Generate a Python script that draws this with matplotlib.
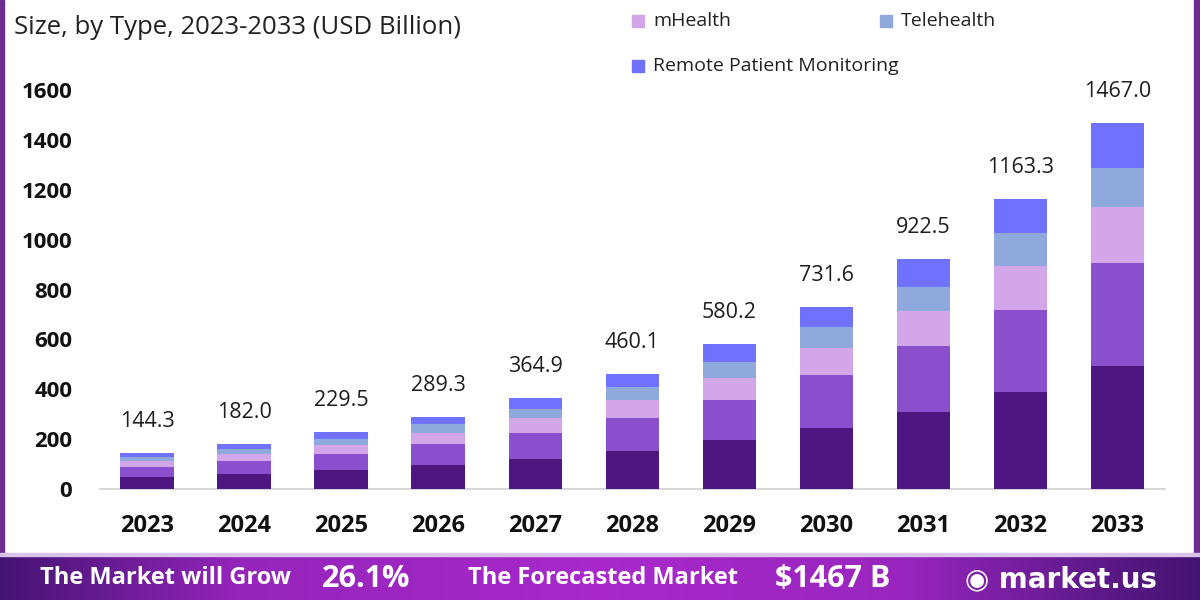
import numpy as np
import matplotlib
matplotlib.use("Agg")
import matplotlib.pyplot as plt
from matplotlib.patches import Rectangle

plt.rcParams["font.family"] = ["Open Sans", "DejaVu Sans"]

# dati (USD Billion)
years = ["2023", "2024", "2025", "2026", "2027", "2028", "2029", "2030", "2031", "2032", "2033"]
totals = [144.3, 182.0, 229.5, 289.3, 364.9, 460.1, 580.2, 731.6, 922.5, 1163.3, 1467.0]

seg_dark = [48, 61, 77, 96, 120, 152, 195, 243, 310, 388, 492]
seg_mid = [41, 52, 65, 86, 105, 132, 163, 213, 262, 330, 415]
mhealth = [22, 28, 35, 44, 58.5, 72, 87.5, 111, 140, 177, 225]
telehealth = [16, 19.5, 24.5, 33.5, 38, 51.5, 63.5, 81, 99, 130, 157]
rpm = [17.3, 21.5, 28, 29.8, 43.4, 52.6, 71.2, 83.6, 111.5, 138.3, 178]

series = [seg_dark, seg_mid, mhealth, telehealth, rpm]
colors = ["#4e1681", "#8a4fcc", "#d3a6ea", "#8fa9dc", "#7171ff"]
legend_labels = ["mHealth", "Telehealth", "Remote Patient Monitoring"]

fig = plt.figure(figsize=(12, 6), dpi=100)
ax = fig.add_axes([100 / 1200, 1 - 489 / 600, 1065 / 1200, 399 / 600])

x = np.arange(len(years))
bottom = np.zeros(len(years))
for vals, col in zip(series, colors):
    ax.bar(x, vals, bottom=bottom, width=0.55, color=col, edgecolor="none", zorder=3)
    bottom = bottom + np.array(vals)

for xi, t in zip(x, totals):
    ax.annotate(f"{t:.1f}", (xi, t), xytext=(0, 15), textcoords="offset points",
                ha="center", va="bottom", fontsize=15.5, color="#1e1e1e")

ax.set_xlim(-0.485, 10.49)
ax.set_ylim(0, 1600)
ax.set_yticks(range(0, 1601, 200))
ax.set_xticks(x)
ax.set_xticklabels(years)
ax.tick_params(length=0)
ax.tick_params(axis="y", pad=20, labelsize=16)
ax.tick_params(axis="x", pad=18, labelsize=17)
for lab in ax.get_xticklabels() + ax.get_yticklabels():
    lab.set_fontweight("bold")
    lab.set_color("#111111")
for s in ["top", "right", "left"]:
    ax.spines[s].set_visible(False)
ax.spines["bottom"].set_color("#cfcfcf")
ax.spines["bottom"].set_linewidth(1.2)

# titolo (riga visibile)
fig.text(14 / 1200, 1 - 27 / 600, "Size, by Type, 2023-2033 (USD Billion)",
         ha="left", va="center", fontsize=18.5, color="#222222")

# legenda manuale
leg_pos = [(632, 21), (880, 21), (632, 66)]
for (px, py), lab, col in zip(leg_pos, legend_labels, colors[2:]):
    fig.add_artist(Rectangle((px / 1200, 1 - (py + 6) / 600), 12 / 1200, 12 / 600,
                             transform=fig.transFigure, color=col))
    fig.text((px + 21) / 1200, 1 - py / 600, lab, ha="left", va="center",
             fontsize=14, color="#222222")

# cornice viola
fig.add_artist(Rectangle((0, 1 - 553 / 600), 4 / 1200, 553 / 600,
                         transform=fig.transFigure, color="#6b2d93"))
fig.add_artist(Rectangle((1194 / 1200, 1 - 553 / 600), 6 / 1200, 553 / 600,
                         transform=fig.transFigure, color="#6b2d93"))
fig.add_artist(Rectangle((0, 1 - 556 / 600), 1, 3 / 600,
                         transform=fig.transFigure, color="#d9c3ea"))

# banda inferiore con gradiente
bax = fig.add_axes([0, 0, 1, 44 / 600])
grad = np.linspace(0, 1, 600)
prof = np.interp(grad, [0, 0.2, 0.5, 0.75, 0.93, 1], [0.0, 0.8, 1.0, 0.85, 0.2, 0.0])
c_dark = np.array([0.27, 0.08, 0.45])
c_light = np.array([0.66, 0.16, 0.80])
img = c_dark[None, :] + prof[:, None] * (c_light - c_dark)[None, :]
bax.imshow(img[None, :, :], aspect="auto", extent=[0, 1, 0, 1])
bax.set_axis_off()

fig.text(40 / 1200, 1 - 578 / 600, "The Market will Grow", ha="left", va="center",
         fontsize=17, fontweight="bold", color="white")
fig.text(322 / 1200, 1 - 579 / 600, "26.1%", ha="left", va="center",
         fontsize=22, fontweight="bold", color="white")
fig.text(468 / 1200, 1 - 578 / 600, "The Forecasted Market", ha="left", va="center",
         fontsize=17, fontweight="bold", color="white")
fig.text(775 / 1200, 1 - 579 / 600, "$1467 B", ha="left", va="center",
         fontsize=22, fontweight="bold", color="white")
fig.text(965 / 1200, 1 - 579 / 600, "\u25c9 market.us", ha="left", va="center",
         fontsize=20, fontweight="bold", color="white", family=["DejaVu Sans"])

fig.savefig("out.png", dpi=100)
